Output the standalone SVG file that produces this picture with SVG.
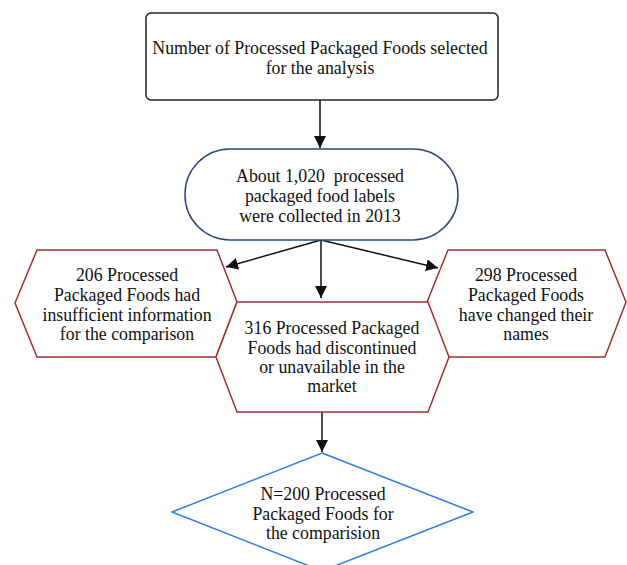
<svg xmlns="http://www.w3.org/2000/svg" width="627" height="565" viewBox="0 0 627 565">
<style>
text{font-family:'Liberation Serif','Times New Roman','DejaVu Serif',serif;font-size:17.8px;fill:#111;text-anchor:middle;white-space:pre}
.box{fill:#fff;stroke:#222;stroke-width:1.5}
.oval{fill:#fff;stroke:#2b4a7c;stroke-width:1.5}
.hex{fill:#fff;stroke:#a3302f;stroke-width:1.5}
.dia{fill:#fff;stroke:#2e7de0;stroke-width:1.5}
.con{stroke:#111;stroke-width:1.5;fill:none;marker-end:url(#ah)}
</style>
<defs>
<marker id="ah" viewBox="0 0 10 10" refX="10" refY="5" markerWidth="8" markerHeight="8" orient="auto" markerUnits="strokeWidth"><path d="M0,0 L10,5 L0,10 z" fill="#111"/></marker>
</defs>
<rect width="627" height="565" fill="#fff"/>
<g id="connectors">
<line class="con" x1="320" y1="100" x2="320" y2="148"/>
<line class="con" x1="321" y1="240" x2="321" y2="298"/>
<line class="con" x1="321" y1="240" x2="226" y2="267"/>
<line class="con" x1="321" y1="240" x2="438" y2="268"/>
<line class="con" x1="322" y1="412" x2="322" y2="452"/>
</g>
<g id="n1">
<rect class="box" x="146" y="13" width="352" height="87" rx="5"/>
<text x="320" y="54">Number of Processed Packaged Foods selected</text>
<text x="320" y="74">for the analysis</text>
</g>
<g id="n2">
<rect class="oval" x="185" y="149" width="273" height="91" rx="45"/>
<text x="320" y="182" xml:space="preserve">About 1,020  processed</text>
<text x="320" y="202">packaged food labels</text>
<text x="320" y="221.5">were collected in 2013</text>
</g>
<g id="n3">
<polygon class="hex" points="15,303 37,250 217,250 237,302 216,357 37,357"/>
<text x="127" y="281">206 Processed</text>
<text x="127" y="301">Packaged Foods had</text>
<text x="127" y="320.5">insufficient information</text>
<text x="127" y="340">for the comparison</text>
</g>
<g id="n4">
<polygon class="hex" points="427,302 448,250 605,250 626,302 605,357 448,357"/>
<text x="526" y="281">298 Processed</text>
<text x="526" y="301">Packaged Foods</text>
<text x="526" y="320.5">have changed their</text>
<text x="526" y="340">names</text>
</g>
<g id="n5">
<polygon class="hex" points="216,357 237,302 428,302 449,357 428,412 237,412"/>
<text x="332" y="334">316 Processed Packaged</text>
<text x="332" y="354">Foods had discontinued</text>
<text x="332" y="373">or unavailable in the</text>
<text x="332" y="392">market</text>
</g>
<g id="n6">
<polygon class="dia" points="322,453 473,512 322,571 172,512"/>
<text x="323" y="500">N=200 Processed</text>
<text x="323" y="520">Packaged Foods for</text>
<text x="323" y="539">the comparision</text>
</g>
</svg>
